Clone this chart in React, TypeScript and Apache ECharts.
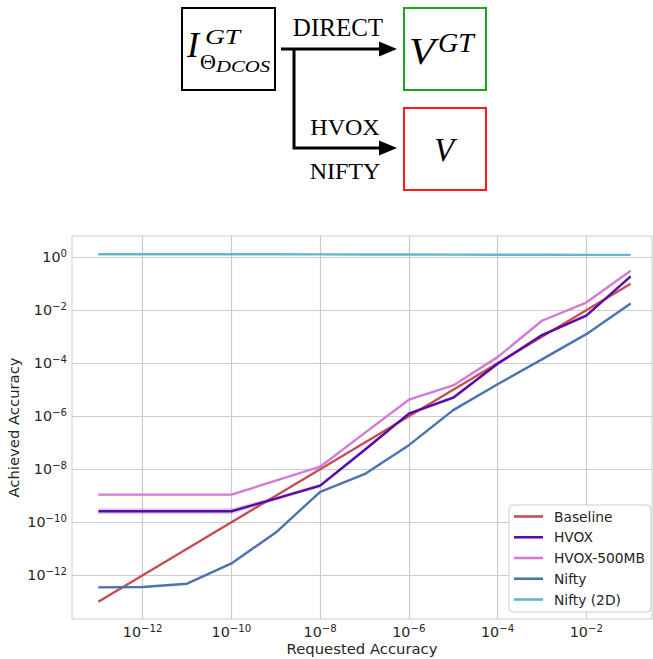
import React, { useEffect, useRef } from "react";
import * as echarts from "echarts";

// ---------- data ----------
const requested = [1e-13, 1e-12, 1e-11, 1e-10, 1e-9, 1e-8, 1e-7, 1e-6, 1e-5, 1e-4, 1e-3, 1e-2, 1e-1];
const baseline = [1e-13, 1e-12, 1e-11, 1e-10, 1e-9, 1e-8, 1e-7, 1e-6, 1e-5, 1e-4, 1e-3, 1e-2, 1e-1];
const hvox = [2.6e-10, 2.6e-10, 2.6e-10, 2.6e-10, 7.8e-10, 2.4e-9, 5.3e-8, 1.26e-6, 5e-6, 9.5e-5, 1.15e-3, 6.3e-3, 0.19];
const hvoxLower = [2.0e-10, 2.0e-10, 2.0e-10, 2.0e-10, 6.6e-10, 2.0e-9, 4.5e-8, 1.08e-6, 4.3e-6, 8.2e-5, 1.0e-3, 5.5e-3, 0.17];
const hvoxUpper = [3.4e-10, 3.4e-10, 3.4e-10, 3.4e-10, 9.2e-10, 2.85e-9, 6.2e-8, 1.45e-6, 5.8e-6, 1.1e-4, 1.3e-3, 7.2e-3, 0.21];
const hvox500 = [1.1e-9, 1.1e-9, 1.1e-9, 1.1e-9, 3.7e-9, 1.25e-8, 2.3e-7, 4.2e-6, 1.45e-5, 1.7e-4, 4e-3, 1.95e-2, 0.31];
const nifty = [3.5e-13, 3.6e-13, 4.8e-13, 2.8e-12, 4.1e-11, 1.4e-9, 6.5e-9, 8.1e-8, 1.7e-6, 1.6e-5, 1.4e-4, 1.25e-3, 1.8e-2];
const nifty2d = [1.3, 1.3, 1.3, 1.3, 1.29, 1.28, 1.27, 1.26, 1.25, 1.24, 1.23, 1.22, 1.22];

const seriesNames = ["Baseline", "HVOX", "HVOX-500MB", "Nifty", "Nifty (2D)"];
const seriesColors = ["#c44e52", "#5a0aa8", "#d47ad4", "#4c72b0", "#64b5cd"];
const xTickExponents = [-12, -10, -8, -6, -4, -2];
const yTickExponents = [-12, -10, -8, -6, -4, -2, 0];

const xTitle = "Requested Accuracy";
const yTitle = "Achieved Accuracy";

const toLog = (ys: number[]) => requested.map((x, i) => [Math.log10(x), Math.log10(ys[i])]);

const TXT = "#262626";
const FONT = "DejaVu Sans";
const SERIF = "Liberation Serif";

function powLabel(v: number) {
  const r = Math.round(v);
  const e = r < 0 ? "\u2212" + Math.abs(r) : String(r);
  return "{b|10}{s|" + e + "}";
}

const rich = {
  b: { fontSize: 14.3, fontFamily: FONT, color: TXT, lineHeight: 17 },
  s: { fontSize: 10.2, fontFamily: FONT, color: TXT, lineHeight: 9, verticalAlign: "top" },
};

export default function App() {
  const ref = useRef<HTMLDivElement>(null);

  useEffect(() => {
    if (!ref.current) return;
    const chart = echarts.init(ref.current, undefined, { renderer: "svg" });

    const lineSeries = [baseline, hvox, hvox500, nifty, nifty2d].map((ys, i) => ({
      name: seriesNames[i],
      type: "line",
      data: toLog(ys),
      symbol: "none",
      lineStyle: { color: seriesColors[i], width: 2.4 },
      itemStyle: { color: seriesColors[i] },
      z: 3 + i,
    }));

    const upperLog = toLog(hvoxUpper);
    const lowerLog = toLog(hvoxLower);

    const band = {
      name: "hvox-band",
      type: "custom",
      coordinateSystem: "cartesian2d",
      silent: true,
      z: 2,
      data: [upperLog[0]],
      renderItem: (params: any, api: any) => {
        const pts = upperLog
          .map((p) => api.coord(p))
          .concat(lowerLog.slice().reverse().map((p) => api.coord(p)));
        return {
          type: "polygon",
          shape: { points: pts },
          style: { fill: "rgba(90,10,168,0.2)", stroke: "none" },
        };
      },
    };

    const graphic = [
      // left box
      { type: "rect", shape: { x: 182, y: 8, width: 93, height: 82 }, style: { fill: "none", stroke: "#000", lineWidth: 2 } },
      // green box
      { type: "rect", shape: { x: 404, y: 8, width: 82, height: 82 }, style: { fill: "none", stroke: "#22a022", lineWidth: 2 } },
      // red box
      { type: "rect", shape: { x: 404, y: 108, width: 82, height: 82 }, style: { fill: "none", stroke: "#ff1a1a", lineWidth: 2 } },
      // arrows
      { type: "polyline", shape: { points: [[281, 49], [382, 49]] }, style: { stroke: "#000", lineWidth: 3, fill: "none" } },
      { type: "polyline", shape: { points: [[294, 49], [294, 148], [382, 148]] }, style: { stroke: "#000", lineWidth: 3, fill: "none", lineJoin: "miter" } },
      { type: "polygon", shape: { points: [[379, 41.5], [397, 49], [379, 56.5]] }, style: { fill: "#000" } },
      { type: "polygon", shape: { points: [[379, 140.5], [397, 148], [379, 155.5]] }, style: { fill: "#000" } },
      // labels on arrows
      { type: "text", x: 338, y: 27, style: { text: "DIRECT", fontSize: 25, fontFamily: SERIF, fill: "#000", align: "center", verticalAlign: "middle" } },
      { type: "text", x: 345, y: 127, style: { text: "HVOX", fontSize: 24, fontFamily: SERIF, fill: "#000", align: "center", verticalAlign: "middle" } },
      { type: "text", x: 345, y: 171, style: { text: "NIFTY", fontSize: 24, fontFamily: SERIF, fill: "#000", align: "center", verticalAlign: "middle" } },
      // I^{GT}_{Theta_DCOS}
      { type: "text", x: 187, y: 45, style: { text: "I", fontSize: 36, fontStyle: "italic", fontFamily: SERIF, fill: "#000", align: "left", verticalAlign: "middle" } },
      { type: "text", x: 205, y: 36, scaleX: 1.25, style: { text: "GT", fontSize: 22, fontStyle: "italic", fontFamily: SERIF, fill: "#000", align: "left", verticalAlign: "middle" } },
      { type: "text", x: 200, y: 61, style: { text: "\u0398", fontSize: 22, fontFamily: SERIF, fill: "#000", align: "left", verticalAlign: "middle" } },
      { type: "text", x: 216, y: 66, scaleX: 1.22, style: { text: "DCOS", fontSize: 17, fontStyle: "italic", fontFamily: SERIF, fill: "#000", align: "left", verticalAlign: "middle" } },
      // V^{GT}
      { type: "text", x: 409, y: 51, scaleX: 1.15, style: { text: "V", fontSize: 37, fontStyle: "italic", fontFamily: SERIF, fill: "#000", align: "left", verticalAlign: "middle" } },
      { type: "text", x: 438, y: 42, style: { text: "GT", fontSize: 28, fontStyle: "italic", fontFamily: SERIF, fill: "#000", align: "left", verticalAlign: "middle" } },
      // V
      { type: "text", x: 444, y: 150, style: { text: "V", fontSize: 33, fontStyle: "italic", fontFamily: SERIF, fill: "#000", align: "center", verticalAlign: "middle" } },
    ];

    chart.setOption({
      animation: false,
      backgroundColor: "#ffffff",
      textStyle: { fontFamily: FONT },
      grid: {
        left: 72,
        right: 1,
        top: 236,
        bottom: 40,
        show: true,
        borderColor: "#cccccc",
        borderWidth: 1,
        backgroundColor: "transparent",
        containLabel: false,
        outerBoundsMode: "none",
      },
      xAxis: {
        type: "value",
        min: -13.594,
        max: -0.519,
        name: xTitle,
        nameLocation: "middle",
        nameGap: 22,
        nameMoveOverlap: false,
        nameTextStyle: { fontSize: 14.8, color: TXT, fontFamily: FONT, verticalAlign: "top" },
        axisLine: { show: false },
        axisTick: { show: false, customValues: xTickExponents },
        axisLabel: { customValues: xTickExponents, formatter: powLabel, rich, margin: 4 },
        splitLine: { show: true, lineStyle: { color: "#cccccc", width: 1.2 } },
      },
      yAxis: {
        type: "value",
        min: -13.65,
        max: 0.8,
        name: yTitle,
        nameLocation: "middle",
        nameGap: 51,
        nameMoveOverlap: false,
        nameTextStyle: { fontSize: 14.8, color: TXT, fontFamily: FONT },
        axisLine: { show: false },
        axisTick: { show: false, customValues: yTickExponents },
        axisLabel: { customValues: yTickExponents, formatter: powLabel, rich, margin: 5 },
        splitLine: { show: true, lineStyle: { color: "#cccccc", width: 1.2 } },
      },
      legend: {
        data: seriesNames,
        orient: "vertical",
        left: 509,
        top: 505,
        icon: "rect",
        itemWidth: 29,
        itemHeight: 2.6,
        itemGap: 4.75,
        padding: [3.5, 6, 4.5, 5],
        backgroundColor: "#ffffff",
        borderColor: "#cccccc",
        borderWidth: 1,
        borderRadius: 4,
        textStyle: { fontSize: 13.8, color: TXT, fontFamily: FONT, lineHeight: 16, padding: [0, 0, 0, 6] },
      },
      graphic,
      series: [band, ...lineSeries],
    });

    return () => chart.dispose();
  }, []);

  return (
    <div
      ref={ref}
      style={{ position: "fixed", left: 0, top: 0, width: 653, height: 659, background: "#fff" }}
    />
  );
}
